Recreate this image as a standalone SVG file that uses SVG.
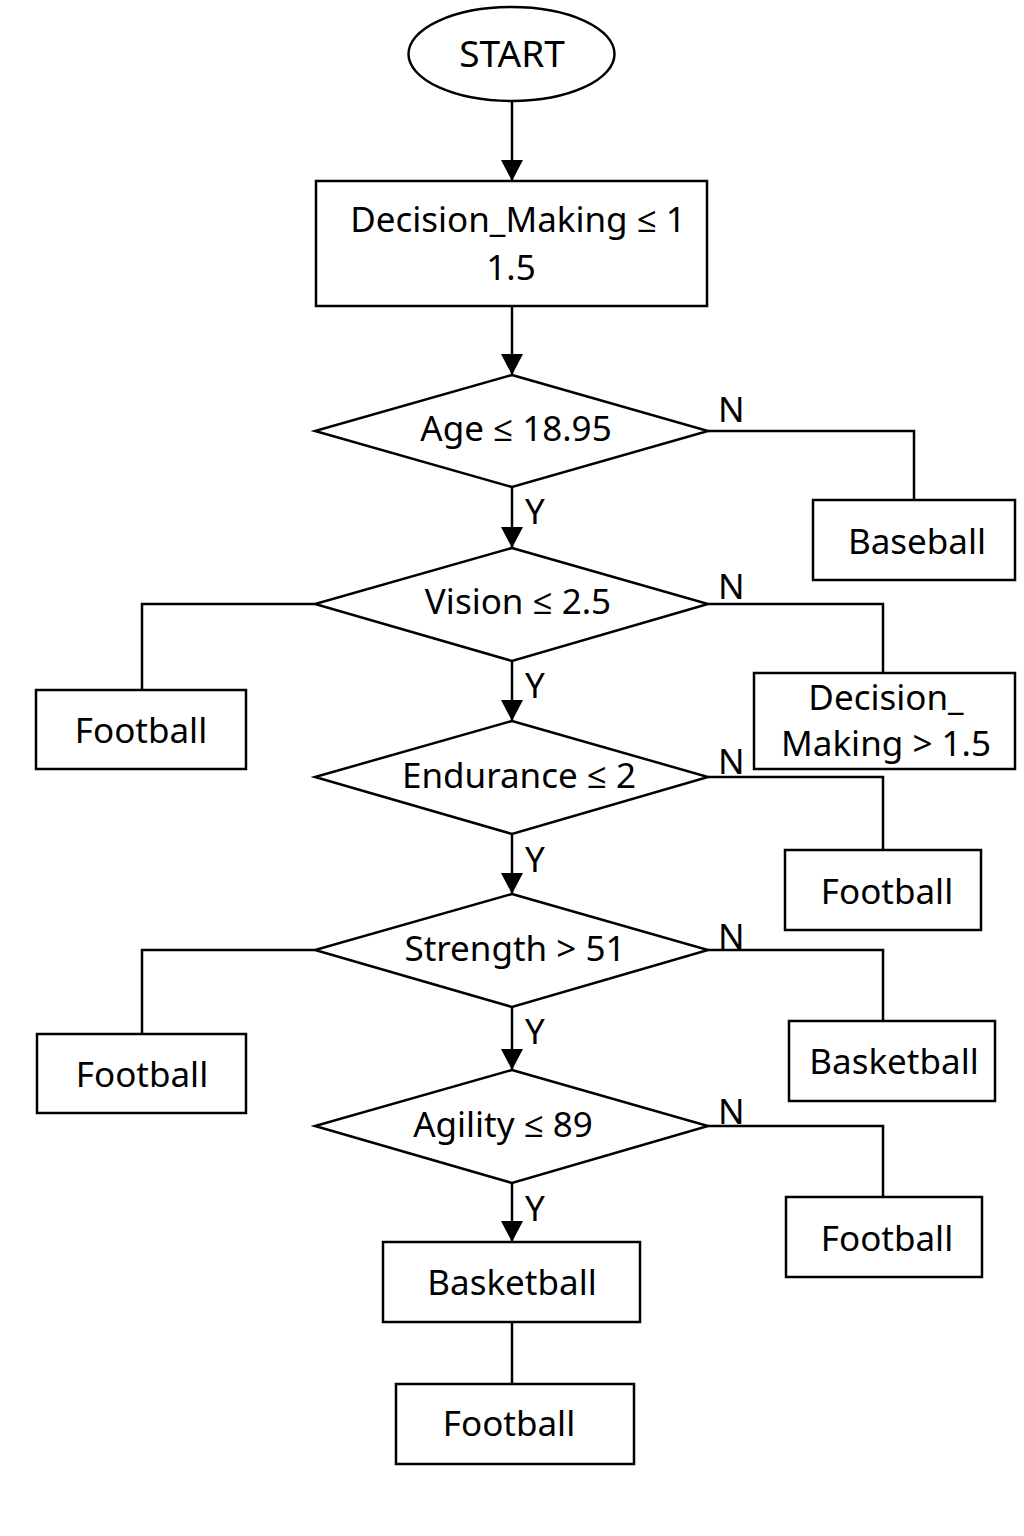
<svg xmlns="http://www.w3.org/2000/svg" width="1024" height="1536" viewBox="0 0 1024 1536">
<style>
.s{fill:#fff;stroke:#000;stroke-width:2.5}
.c{fill:none;stroke:#000;stroke-width:2.5}
text{font-family:"Noto Sans","Open Sans",sans-serif;font-size:35px;fill:#000}
.m{text-anchor:middle}
</style>
<defs>
<marker id="ah" markerWidth="22" markerHeight="22" viewBox="0 0 22 22" refX="21" refY="11" orient="auto" markerUnits="userSpaceOnUse">
<path d="M0,0 L21,11 L0,22 Z" fill="#000"/>
</marker>
</defs>
<rect width="1024" height="1536" fill="#fff"/>
<g id="connectors">
<path class="c" d="M512,101 V181" marker-end="url(#ah)"/>
<path class="c" d="M512,306 V375" marker-end="url(#ah)"/>
<path class="c" d="M512,487 V548" marker-end="url(#ah)"/>
<path class="c" d="M512,661 V721" marker-end="url(#ah)"/>
<path class="c" d="M512,834 V894" marker-end="url(#ah)"/>
<path class="c" d="M512,1007 V1070" marker-end="url(#ah)"/>
<path class="c" d="M512,1183 V1242" marker-end="url(#ah)"/>
<path class="c" d="M512,1322 V1384"/>
<path class="c" d="M708,431 H914 V500"/>
<path class="c" d="M708,604 H883 V673"/>
<path class="c" d="M708,777 H883 V850"/>
<path class="c" d="M708,950 H883 V1021"/>
<path class="c" d="M708,1126 H883 V1197"/>
<path class="c" d="M315,604 H142 V690"/>
<path class="c" d="M315,950 H142 V1034"/>
<text x="525" y="524">Y</text>
<text x="525" y="698">Y</text>
<text x="525" y="872">Y</text>
<text x="525" y="1044">Y</text>
<text x="525" y="1221">Y</text>
<text x="718" y="422">N</text>
<text x="718" y="599">N</text>
<text x="718" y="774">N</text>
<text x="718" y="949">N</text>
<text x="718" y="1124">N</text>
</g>
<g id="start"><ellipse class="s" cx="511.5" cy="54" rx="103" ry="47"/><text class="m" x="512" y="67" style="font-size:37px">START</text></g>
<g id="dm1"><rect class="s" x="316" y="181" width="391" height="125"/><text class="m" x="518" y="232">Decision_Making ≤ 1</text><text class="m" x="511" y="280">1.5</text></g>
<g id="age"><polygon class="s" points="512,375 708,431 512,487 315,431"/><text class="m" x="516" y="441">Age ≤ 18.95</text></g>
<g id="vision"><polygon class="s" points="512,548 708,604 512,661 315,604"/><text class="m" x="518" y="614">Vision ≤ 2.5</text></g>
<g id="endurance"><polygon class="s" points="512,721 708,777 512,834 315,777"/><text class="m" x="519" y="788">Endurance ≤ 2</text></g>
<g id="strength"><polygon class="s" points="512,894 708,950 512,1007 315,950"/><text class="m" x="515" y="961">Strength &gt; 51</text></g>
<g id="agility"><polygon class="s" points="512,1070 708,1126 512,1183 315,1126"/><text class="m" x="503" y="1137">Agility ≤ 89</text></g>
<g id="baseball"><rect class="s" x="813" y="500" width="202" height="80"/><text class="m" x="917" y="554">Baseball</text></g>
<g id="dm2"><rect class="s" x="754" y="673" width="261" height="96"/><text class="m" x="886" y="710">Decision_</text><text class="m" x="886" y="756">Making &gt; 1.5</text></g>
<g id="football_r1"><rect class="s" x="785" y="850" width="196" height="80"/><text class="m" x="887" y="904">Football</text></g>
<g id="basketball_r"><rect class="s" x="789" y="1021" width="206" height="80"/><text class="m" x="894" y="1074">Basketball</text></g>
<g id="football_r2"><rect class="s" x="786" y="1197" width="196" height="80"/><text class="m" x="887" y="1251">Football</text></g>
<g id="football_l1"><rect class="s" x="36" y="690" width="210" height="79"/><text class="m" x="141" y="743">Football</text></g>
<g id="football_l2"><rect class="s" x="37" y="1034" width="209" height="79"/><text class="m" x="142" y="1087">Football</text></g>
<g id="basketball_b"><rect class="s" x="383" y="1242" width="257" height="80"/><text class="m" x="512" y="1295">Basketball</text></g>
<g id="football_b"><rect class="s" x="396" y="1384" width="238" height="80"/><text class="m" x="509" y="1436">Football</text></g>
</svg>
